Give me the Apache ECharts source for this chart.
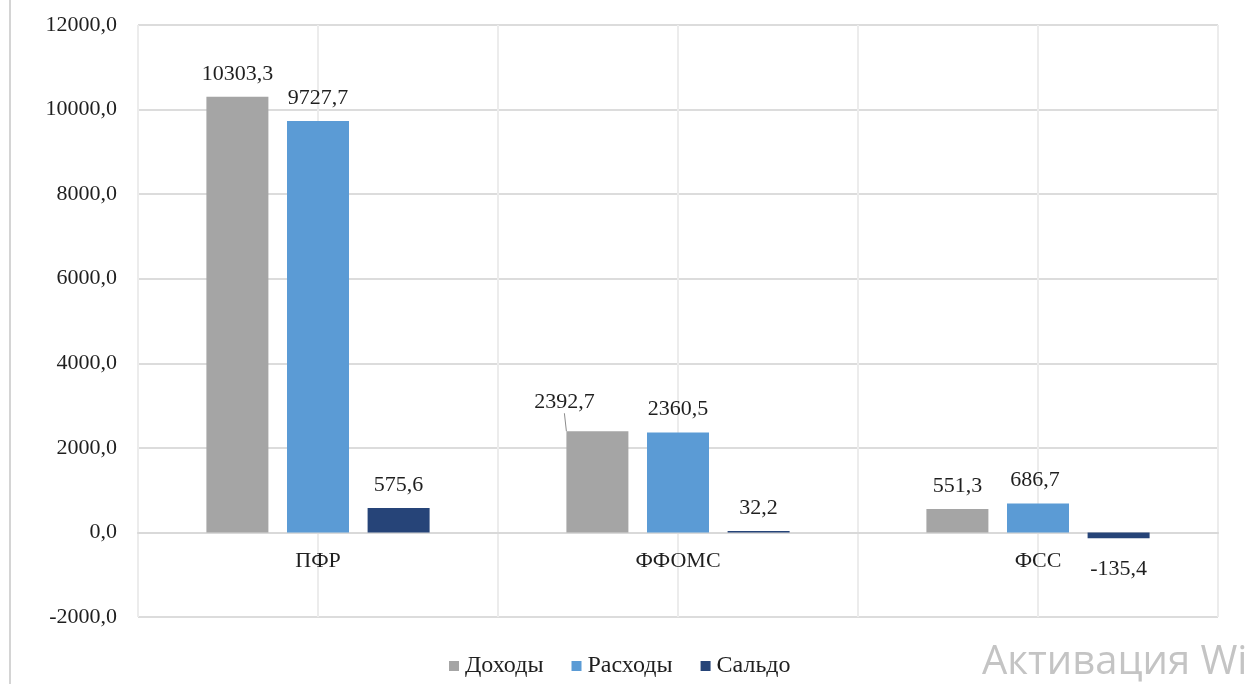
<!DOCTYPE html>
<html>
<head>
<meta charset="utf-8">
<script src="https://cdn.jsdelivr.net/npm/echarts@6/dist/echarts.min.js"></script>
<style>
html,body{margin:0;padding:0;background:#fff;}
#c{width:1247px;height:684px;}
</style>
</head>
<body>
<div id="c"></div>
<script>
const categories = ['ПФР', 'ФФОМС', 'ФСС'];
const seriesNames = ['Доходы', 'Расходы', 'Сальдо'];
const incomeValues = [10303.3, 2392.7, 551.3];
const expenseValues = [9727.7, 2360.5, 686.7];
const balanceValues = [575.6, 32.2, -135.4];
const yTicks = { min: -2000, max: 12000, interval: 2000 };

const FONT = '"Liberation Serif", "Times New Roman", serif';
const TXT = '#1f1f1f';
const FS = 22;
const fmt = v => Number(v).toFixed(1).replace('.', ',');

const W = 1247, H = 684;
const GRID = { left: 138, right: 29, top: 25, bottom: 67 };
const plotH = H - GRID.top - GRID.bottom;
// distance from the bottom of the plot to the value 0 on the y scale
const zeroOffset = plotH * (0 - yTicks.min) / (yTicks.max - yTicks.min);

const chart = echarts.init(document.getElementById('c'), null, { renderer: 'canvas' });

function labelCfg(extra) {
  return Object.assign({
    show: true,
    position: 'top',
    distance: 12,
    color: TXT,
    fontFamily: FONT,
    fontSize: FS,
    formatter: p => fmt(p.value)
  }, extra || {});
}

const option = {
  backgroundColor: '#ffffff',
  animation: false,
  grid: Object.assign({ containLabel: false }, GRID),
  legend: {
    data: seriesNames,
    left: 444,
    bottom: 1,
    icon: 'rect',
    itemWidth: 10,
    itemHeight: 10,
    itemGap: 28,
    textStyle: { color: TXT, fontFamily: FONT, fontSize: 24, padding: [0, 0, 0, 1] }
  },
  xAxis: [
    {
      type: 'category',
      data: categories,
      position: 'bottom',
      offset: -zeroOffset,
      axisTick: { show: false },
      axisLine: { show: true, onZero: false, lineStyle: { color: '#d9d9d9', width: 2 } },
      axisLabel: { color: TXT, fontFamily: FONT, fontSize: FS, margin: 18 },
      splitLine: { show: false }
    },
    {
      type: 'value',
      min: 0, max: 6, interval: 1,
      position: 'top',
      show: true,
      axisLine: { show: false, onZero: false },
      axisTick: { show: false },
      axisLabel: { show: false },
      splitLine: { show: true, lineStyle: { color: '#ececec', width: 2 } }
    }
  ],
  yAxis: {
    type: 'value',
    min: yTicks.min,
    max: yTicks.max,
    interval: yTicks.interval,
    axisLine: { show: false },
    axisTick: { show: false },
    axisLabel: { color: TXT, fontFamily: FONT, fontSize: FS, margin: 21, formatter: v => fmt(v) },
    splitLine: { show: true, lineStyle: { color: '#dcdcdc', width: 2 } }
  },
  series: [
    {
      name: seriesNames[0],
      type: 'bar',
      xAxisIndex: 0,
      data: incomeValues.map((v, i) => i === 1
        ? { value: v, labelLine: { show: true, length2: 0, lineStyle: { color: '#8c8c8c', width: 1 } } }
        : v),
      barWidth: 62,
      barGap: '30%',
      itemStyle: { color: '#a5a5a5' },
      label: labelCfg(),
      labelLayout: p => (p.dataIndex === 1 ? { dx: -33, dy: -6 } : null),
      labelLine: { show: false }
    },
    {
      name: seriesNames[1],
      type: 'bar',
      xAxisIndex: 0,
      data: expenseValues,
      barWidth: 62,
      barGap: '30%',
      itemStyle: { color: '#5b9bd5' },
      label: labelCfg({ offset: [6, 0] }),
      labelLayout: p => (p.dataIndex === 2 ? { dx: -3 } : null)
    },
    {
      name: seriesNames[2],
      type: 'bar',
      xAxisIndex: 0,
      data: balanceValues.map(v => v < 0
        ? { value: v, label: { position: 'bottom', distance: 20 } }
        : v),
      barWidth: 62,
      barGap: '30%',
      itemStyle: { color: '#264478' },
      label: labelCfg()
    }
  ],
  graphic: [
    {
      type: 'line',
      shape: { x1: 10, y1: 0, x2: 10, y2: H },
      style: { stroke: '#d4d4d4', lineWidth: 2 },
      silent: true
    },
    {
      type: 'text',
      left: 982,
      top: 643,
      style: {
        text: 'Активация Windows',
        fill: '#c4c4c4',
        font: '40px "Open Sans", "Noto Sans", sans-serif'
      },
      silent: true
    }
  ]
};

chart.setOption(option);
</script>
</body>
</html>
